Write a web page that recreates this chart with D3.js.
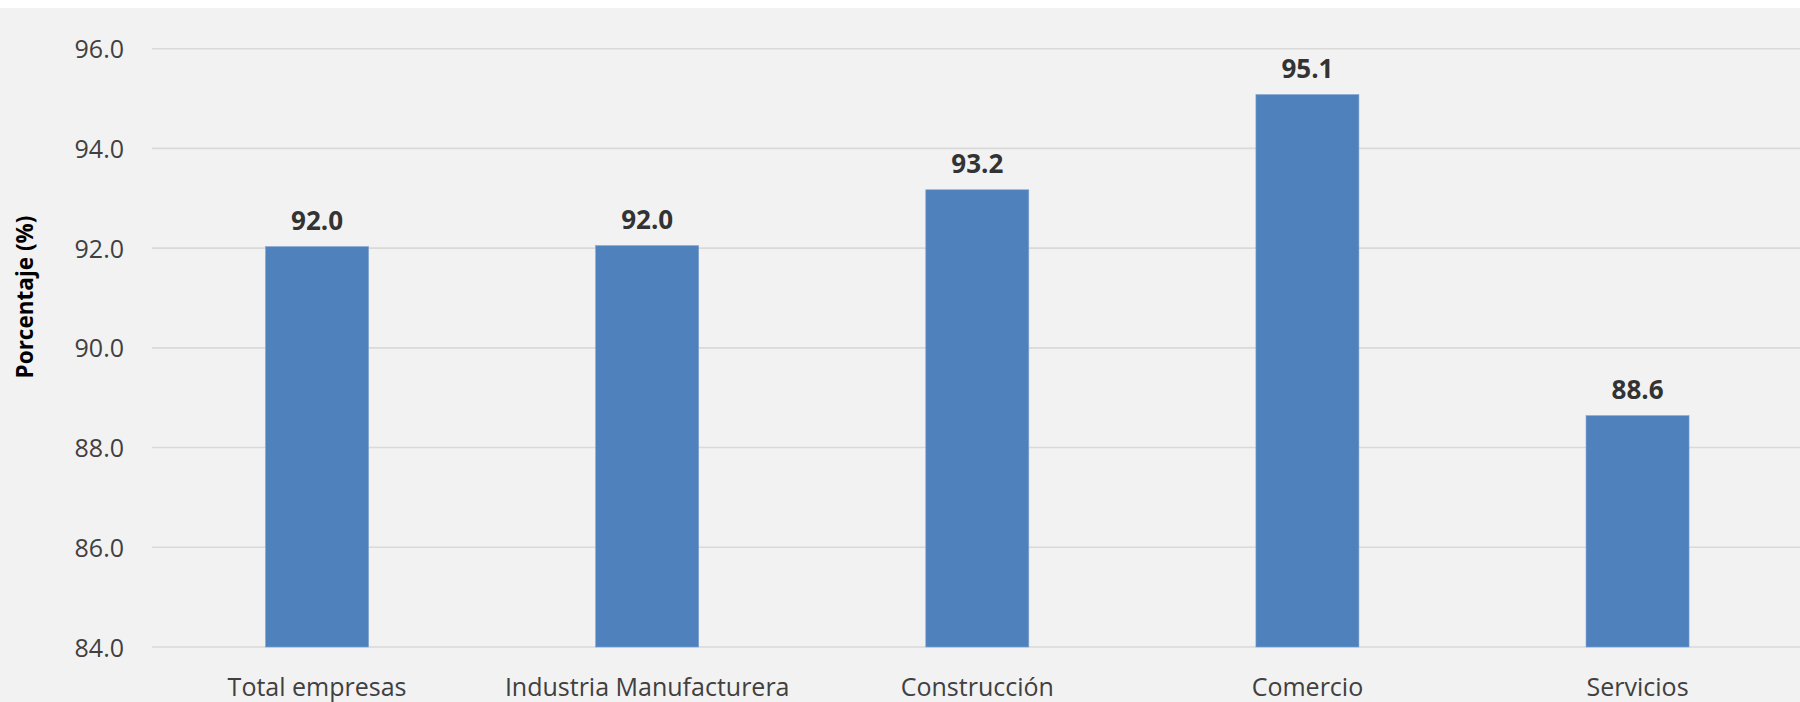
<!DOCTYPE html>
<html>
<head>
<meta charset="utf-8">
<script src="https://cdn.jsdelivr.net/npm/d3@7"></script>
<style>
  html, body { margin: 0; padding: 0; background: #ffffff; overflow: hidden; }
  svg { display: block; }
</style>
</head>
<body>
<svg id="chart" width="1800" height="702"></svg>
<script>
const categories = ["Total empresas", "Industria Manufacturera", "Construcción", "Comercio", "Servicios"];
const values = [92.03, 92.05, 93.17, 95.08, 88.64];
const valueLabels = ["92.0", "92.0", "93.2", "95.1", "88.6"];
const yTicks = [84, 86, 88, 90, 92, 94, 96];
const yTitle = "Porcentaje (%)";

const W = 1800, H = 702;
const svg = d3.select("#chart");

svg.append("rect").attr("x", 0).attr("y", 8).attr("width", W).attr("height", H - 8).attr("fill", "#f2f2f2");

const x = d3.scaleBand().domain(categories).range([152, 1802.6]).paddingInner(0.688).paddingOuter(0.344);
const y = d3.scaleLinear().domain([84, 96]).range([647, 48.7]);

// gridlines
svg.append("g").selectAll("line.grid").data(yTicks).join("line")
  .attr("class", "grid")
  .attr("x1", 152).attr("x2", W)
  .attr("y1", d => y(d)).attr("y2", d => y(d))
  .attr("stroke", "#d9d9d9").attr("stroke-width", 1.6);

const yAxis = d3.axisLeft(y).tickValues(yTicks).tickFormat(d3.format(".1f")).tickSize(0).tickPadding(0);
const ga = svg.append("g").attr("transform", "translate(124,0)").call(yAxis);
ga.select(".domain").remove();
ga.selectAll("text")
  .attr("font-family", "'Open Sans', sans-serif")
  .attr("font-size", 25)
  .attr("fill", "#404040")
  .attr("dy", "0.36em")
  .attr("text-anchor", "end");

// bars
svg.append("g").selectAll("rect").data(categories).join("rect")
  .attr("x", d => x(d))
  .attr("width", x.bandwidth())
  .attr("y", (d, i) => y(values[i]))
  .attr("height", (d, i) => y(84) - y(values[i]))
  .attr("fill", "#4f81bd")
  .attr("stroke", "#7ea1cf").attr("stroke-width", 0.6);

// value labels
svg.append("g").selectAll("text").data(categories).join("text")
  .attr("x", d => x(d) + x.bandwidth() / 2)
  .attr("y", (d, i) => y(values[i]) - 17)
  .attr("text-anchor", "middle")
  .attr("font-family", "'Open Sans', sans-serif")
  .attr("font-weight", "bold")
  .attr("font-size", 26)
  .attr("fill", "#333333")
  .text((d, i) => valueLabels[i]);

// x axis labels
const xAxis = d3.axisBottom(x).tickSize(0).tickPadding(0);
const gx = svg.append("g").attr("transform", "translate(0,647)").call(xAxis);
gx.select(".domain").remove();
gx.selectAll("text")
  .attr("font-family", "'Open Sans', sans-serif")
  .attr("font-size", 25)
  .attr("fill", "#404040")
  .attr("dy", null)
  .attr("y", 49);

// y title
svg.append("text")
  .attr("transform", "translate(33,297) rotate(-90)")
  .attr("text-anchor", "middle")
  .attr("font-family", "'Open Sans', sans-serif")
  .attr("font-weight", "bold")
  .attr("font-size", 22.5)
  .attr("fill", "#000000")
  .text(yTitle);
</script>
</body>
</html>
